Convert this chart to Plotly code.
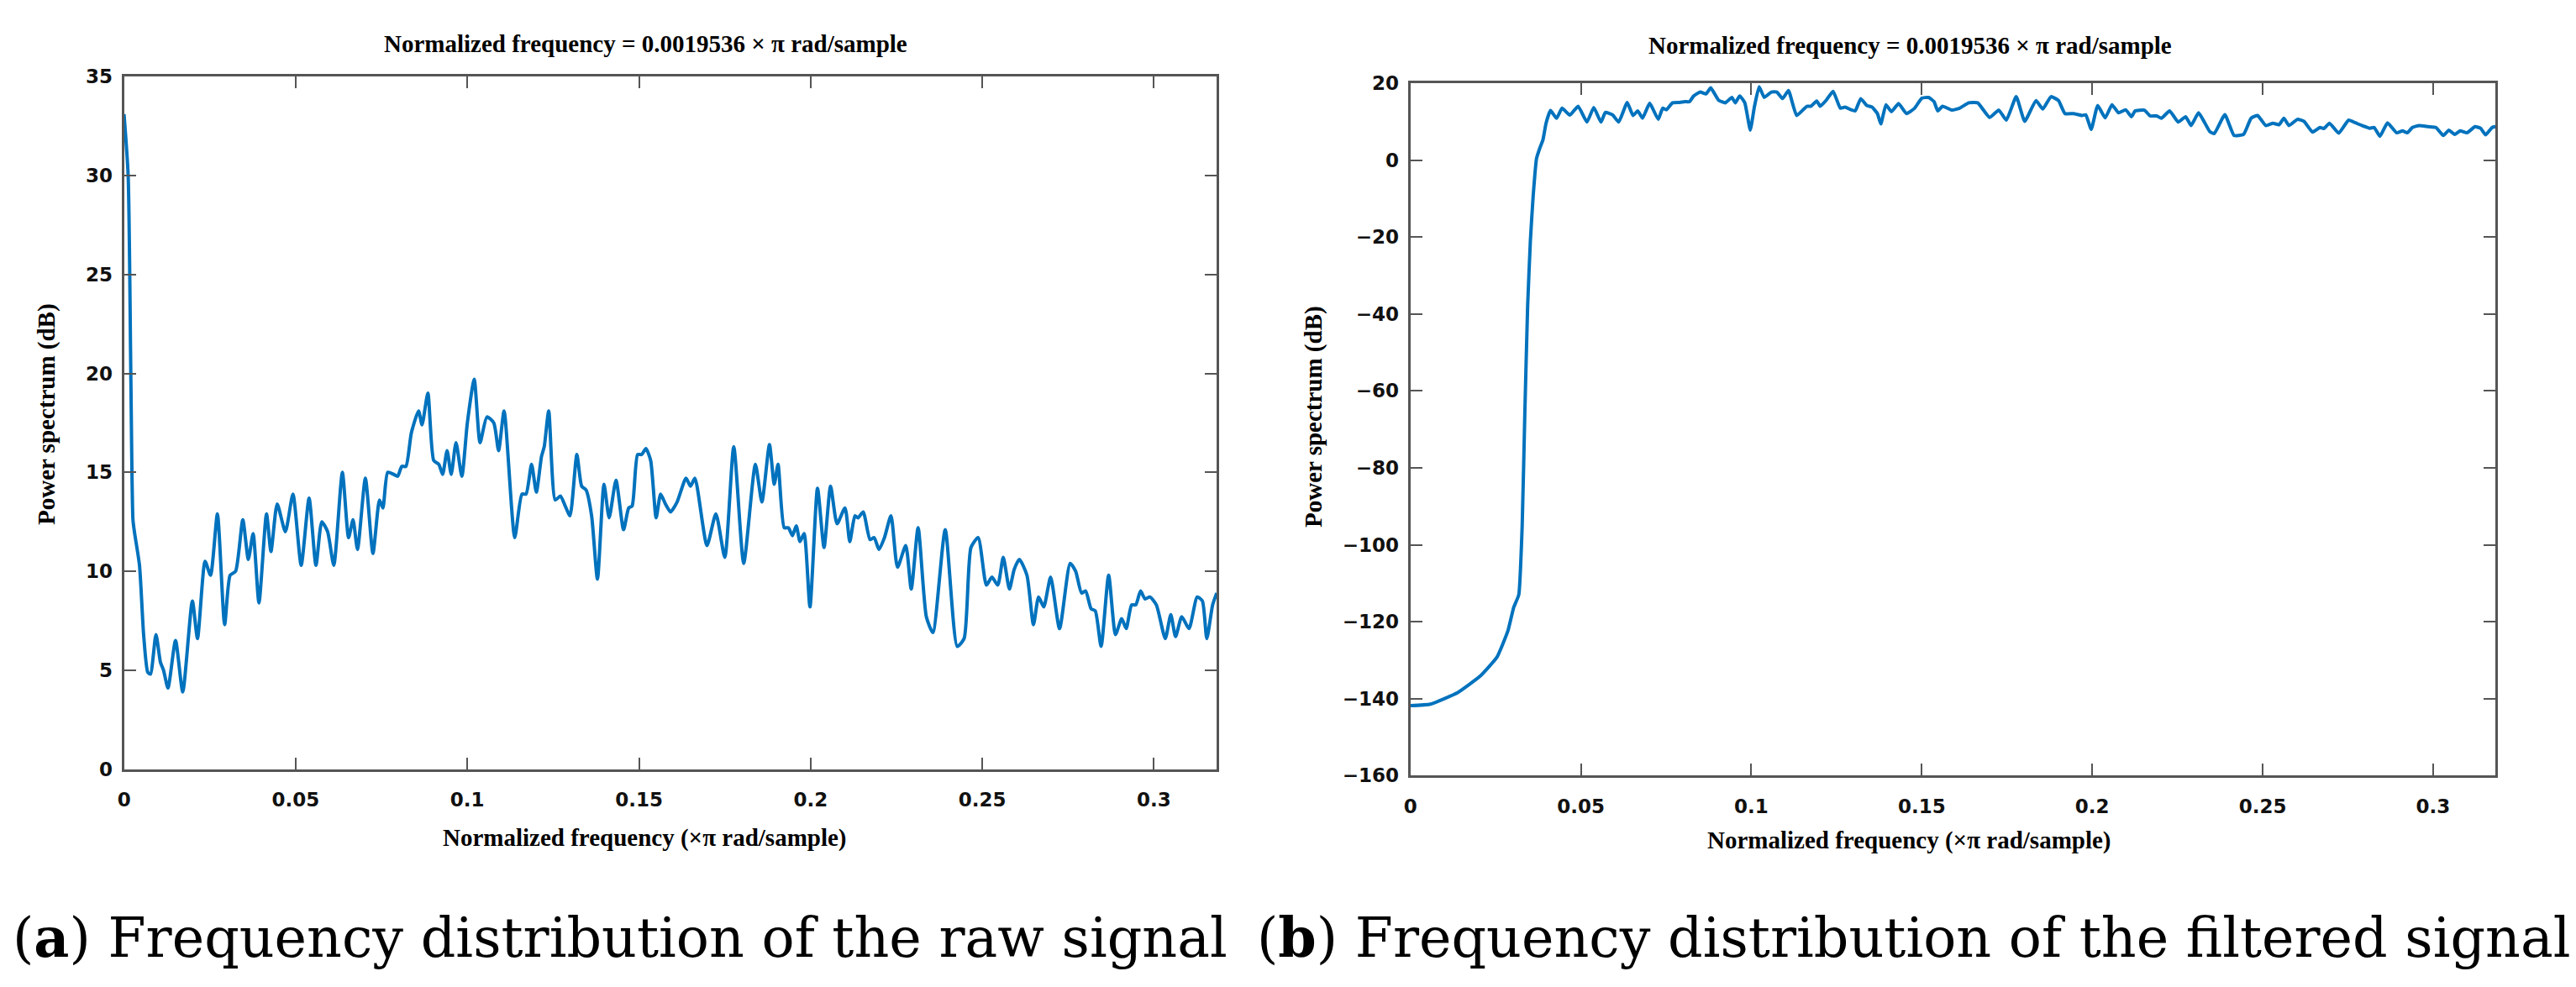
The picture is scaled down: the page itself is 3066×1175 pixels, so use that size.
import plotly.graph_objects as go

W, H = 3066, 1175

# ---------------- data ----------------
raw_freq = [0.0, 0.0012, 0.002, 0.0026, 0.0031, 0.0045, 0.0057, 0.0069, 0.0077, 0.0093,
            0.0106, 0.0115, 0.0128, 0.015, 0.0171, 0.0199, 0.0214, 0.0236, 0.0252, 0.0272,
            0.0293, 0.0309, 0.0325, 0.0346, 0.0362, 0.0376, 0.0393, 0.0415, 0.0428, 0.0446,
            0.047, 0.0492, 0.0516, 0.0539, 0.0559, 0.0576, 0.0593, 0.0611, 0.0636, 0.0654,
            0.0667, 0.068, 0.0703, 0.0725, 0.0744, 0.0754, 0.0768, 0.0785, 0.0797, 0.0809,
            0.0821, 0.0837, 0.0858, 0.0868, 0.0885, 0.0902, 0.0917, 0.0928, 0.0941, 0.0953,
            0.0967, 0.0984, 0.1000, 0.102, 0.1037, 0.1057, 0.1077, 0.1091, 0.1107, 0.1138,
            0.1159, 0.1171, 0.1187, 0.1201, 0.1216, 0.1224, 0.1237, 0.1256, 0.1271, 0.1285,
            0.1299, 0.1319, 0.1333, 0.1346, 0.1362, 0.1379, 0.1398, 0.1413, 0.1433, 0.1455,
            0.147, 0.148, 0.1496, 0.1508, 0.152, 0.1534, 0.155, 0.1563, 0.1577, 0.1592,
            0.1611, 0.1637, 0.165, 0.1663, 0.1698, 0.1724, 0.175, 0.1776, 0.1805, 0.1839,
            0.1858, 0.188, 0.1894, 0.1905, 0.1923, 0.1935, 0.1947, 0.1958, 0.1969, 0.1981,
            0.1998, 0.2020, 0.2039, 0.2058, 0.2077, 0.21, 0.2114, 0.2129, 0.2138, 0.2153,
            0.2173, 0.2185, 0.2199, 0.2215, 0.2234, 0.2253, 0.2277, 0.2293, 0.2313, 0.2337,
            0.2356, 0.2392, 0.2427, 0.2447, 0.2467, 0.2488, 0.2512, 0.2528, 0.2545, 0.2561,
            0.2579, 0.2593, 0.2608, 0.263, 0.2649, 0.2664, 0.2679, 0.2699, 0.2725, 0.2756,
            0.2772, 0.2789, 0.2801, 0.2817, 0.2829, 0.2846, 0.2868, 0.2888, 0.2906, 0.2919,
            0.2935, 0.2947, 0.2961, 0.2974, 0.2988, 0.3007, 0.3033, 0.3049, 0.3063, 0.3081,
            0.3102, 0.3126, 0.3141, 0.3154, 0.3171, 0.3183]
raw_db = [33.1, 30.0, 19.6, 12.6, 11.9, 10.3, 6.8, 4.9, 4.8, 6.8,
          5.4, 5.0, 4.1, 6.5, 3.9, 8.5, 6.6, 10.5, 9.8, 12.9,
          7.3, 9.8, 10.0, 12.6, 10.6, 11.9, 8.4, 12.9, 11.0, 13.4,
          12.0, 13.9, 10.3, 13.7, 10.3, 12.5, 12.0, 10.3, 15.0, 11.7,
          12.6, 11.1, 14.7, 10.9, 13.6, 13.2, 15.0, 14.9, 14.8, 15.3,
          15.3, 17.0, 18.1, 17.4, 19.0, 15.6, 15.4, 14.9, 16.1, 14.9,
          16.5, 14.8, 17.5, 19.7, 16.5, 17.8, 17.5, 16.1, 18.1, 11.7,
          13.9, 13.9, 15.4, 14.0, 15.8, 16.3, 18.1, 13.6, 13.8, 13.3,
          12.8, 15.9, 14.3, 14.1, 12.8, 9.6, 14.4, 12.7, 14.6, 12.1,
          13.2, 13.3, 15.9, 15.9, 16.2, 15.6, 12.7, 13.9, 13.4, 13.0,
          13.5, 14.7, 14.3, 14.7, 11.3, 12.9, 10.7, 16.3, 10.4, 15.4,
          13.5, 16.4, 14.4, 15.4, 12.2, 12.2, 11.8, 12.3, 11.5, 11.9,
          8.2, 14.2, 11.2, 14.3, 12.4, 13.2, 11.5, 12.8, 12.7, 13.0,
          11.6, 11.7, 11.1, 11.7, 12.8, 10.2, 11.3, 9.1, 12.2, 7.7,
          6.9, 12.1, 6.2, 6.6, 11.2, 11.7, 9.3, 9.7, 9.3, 10.7,
          9.1, 10.1, 10.6, 9.8, 7.3, 8.7, 8.2, 9.7, 7.1, 10.4,
          10.0, 8.9, 9.0, 8.1, 8.0, 6.2, 9.8, 6.8, 7.6, 7.1,
          8.3, 8.3, 9.0, 8.6, 8.7, 8.3, 6.6, 7.8, 6.7, 7.7,
          7.1, 8.7, 8.5, 6.6, 8.3, 8.9]

filt_freq = [0.0, 0.0059, 0.0139, 0.0205, 0.0254, 0.0286, 0.0303, 0.0318, 0.0328, 0.0336,
             0.0344, 0.0352, 0.036, 0.037, 0.038, 0.0389, 0.0398, 0.0411, 0.0429, 0.0445,
             0.0468, 0.0492, 0.0518, 0.0538, 0.0559, 0.0572, 0.0593, 0.0611, 0.0636, 0.0653,
             0.0667, 0.0681, 0.0702, 0.0727, 0.074, 0.0751, 0.0769, 0.079, 0.0805, 0.0819,
             0.0831, 0.085, 0.0867, 0.0881, 0.0904, 0.0924, 0.0943, 0.0953, 0.0966, 0.0981,
             0.0997, 0.1009, 0.1023, 0.1038, 0.1059, 0.1075, 0.1092, 0.1109, 0.1133, 0.1163,
             0.1175, 0.1192, 0.1202, 0.122, 0.1240, 0.1261, 0.1275, 0.1292, 0.1305, 0.1321,
             0.1339, 0.1354, 0.137, 0.138, 0.1395, 0.1411, 0.1432, 0.1455, 0.1479, 0.15,
             0.152, 0.1536, 0.1547, 0.1561, 0.1589, 0.1611, 0.1638, 0.1664, 0.1699, 0.1726,
             0.1748, 0.1777, 0.1802, 0.1835, 0.1855, 0.1879, 0.1901, 0.1920, 0.1945, 0.197,
             0.1981, 0.1997, 0.2016, 0.2038, 0.2058, 0.2077, 0.2098, 0.2115, 0.2126, 0.2153,
             0.2170, 0.2189, 0.2203, 0.2227, 0.2252, 0.2274, 0.229, 0.2312, 0.2345, 0.2358,
             0.2389, 0.2416, 0.2444, 0.2466, 0.2485, 0.2509, 0.253, 0.2548, 0.2562, 0.2577,
             0.2602, 0.2621, 0.2646, 0.2668, 0.2679, 0.2696, 0.2723, 0.2752, 0.2772, 0.2794,
             0.2814, 0.2827, 0.2844, 0.2866, 0.2893, 0.291, 0.2924, 0.2939, 0.2959, 0.2986,
             0.3008, 0.303, 0.3046, 0.3063, 0.3079, 0.3099, 0.3123, 0.3139, 0.3154, 0.3173,
             0.3183]
filt_db = [-141.8, -141.4, -138.4, -134.1, -129.2, -122.4, -116.3, -113.0, -95.0, -65.0,
           -38.0, -21.0, -9.6, 0.4, 3.2, 5.3, 9.6, 12.9, 10.9, 13.5,
           11.7, 14.0, 9.9, 13.7, 9.9, 12.4, 11.8, 9.9, 15.0, 11.6,
           12.8, 10.9, 14.8, 10.6, 13.5, 13.1, 14.9, 15.0, 15.2, 15.2,
           16.7, 17.7, 17.2, 18.8, 15.6, 14.9, 16.3, 14.9, 16.7, 14.9,
           7.8, 13.8, 19.1, 16.3, 17.7, 17.7, 16.0, 18.1, 11.6, 14.0,
           14.0, 15.4, 14.0, 15.6, 17.9, 13.5, 13.8, 13.1, 12.8, 16.0,
           14.2, 13.8, 12.1, 9.4, 14.4, 12.6, 14.7, 12.1, 13.5, 16.1,
           16.3, 15.2, 12.8, 14.0, 13.0, 13.5, 14.9, 14.9, 11.1, 13.0,
           10.4, 16.5, 10.1, 15.5, 13.3, 16.5, 15.5, 12.1, 12.1, 11.6,
           11.8, 8.0, 14.2, 11.0, 14.4, 12.3, 13.1, 11.3, 12.8, 13.0,
           11.5, 11.5, 10.9, 12.8, 9.9, 11.3, 9.0, 12.3, 7.4, 6.9,
           11.8, 6.4, 6.7, 10.9, 11.6, 9.0, 9.6, 9.2, 10.9, 9.0,
           10.6, 10.1, 7.3, 8.5, 8.2, 9.6, 7.0, 10.4, 9.7, 8.9,
           8.3, 8.5, 6.2, 9.7, 7.1, 7.6, 7.1, 8.5, 9.0, 8.7,
           8.5, 6.4, 7.8, 6.7, 7.6, 7.1, 8.7, 8.3, 6.6, 8.5,
           8.7]

x_ticks = [0, 0.05, 0.1, 0.15, 0.2, 0.25, 0.3]
x_tick_labels = ["0", "0.05", "0.1", "0.15", "0.2", "0.25", "0.3"]
y1_ticks = [0, 5, 10, 15, 20, 25, 30, 35]
y2_ticks = [-160, -140, -120, -100, -80, -60, -40, -20, 0, 20]
x_max = 0.3183

title_text = "Normalized frequency = 0.0019536 × π rad/sample"
xlabel_text = "Normalized frequency (×π rad/sample)"
ylabel_text = "Power spectrum (dB)"
caption_a = "(<b>a</b>) Frequency distribution of the raw signal"
caption_b = "(<b>b</b>) Frequency distribution of the filtered signal"

LINE_COLOR = "#0072BD"
AX_COLOR = "#555555"

fig = go.Figure()
fig.add_trace(go.Scatter(x=raw_freq, y=raw_db, mode="lines",
                         line=dict(color=LINE_COLOR, width=4, shape="spline", smoothing=0.6),
                         xaxis="x", yaxis="y", showlegend=False, hoverinfo="skip"))
fig.add_trace(go.Scatter(x=filt_freq, y=filt_db, mode="lines",
                         line=dict(color=LINE_COLOR, width=4, shape="spline", smoothing=0.4),
                         xaxis="x2", yaxis="y2", showlegend=False, hoverinfo="skip"))


def px(x):
    return x / W


def py(y):
    return 1 - y / H


tick_font = dict(family="DejaVu Sans", size=23, color="#111111", weight="bold")
common_x = dict(range=[0, x_max], tickmode="array", tickvals=x_ticks, ticktext=x_tick_labels,
                ticks="inside", ticklen=14, tickwidth=2, tickcolor=AX_COLOR,
                showline=True, linecolor=AX_COLOR, linewidth=3, mirror="ticks",
                showgrid=False, zeroline=False, tickfont=tick_font, ticklabelstandoff=14)
common_y = dict(ticks="inside", ticklen=14, tickwidth=2, tickcolor=AX_COLOR,
                showline=True, linecolor=AX_COLOR, linewidth=3, mirror="ticks",
                showgrid=False, zeroline=False, tickfont=tick_font, ticklabelstandoff=6)

fig.update_layout(
    width=W, height=H,
    margin=dict(l=0, r=0, t=0, b=0),
    paper_bgcolor="white", plot_bgcolor="white",
    xaxis=dict(domain=[px(140), px(1444)], anchor="y", **common_x),
    yaxis=dict(domain=[py(923), py(80)], anchor="x", range=[0, 35],
               tickmode="array", tickvals=y1_ticks, **common_y),
    xaxis2=dict(domain=[px(1675), px(2970)], anchor="y2", **common_x),
    yaxis2=dict(domain=[py(931), py(88)], anchor="x2", range=[-160, 20],
                tickmode="array", tickvals=y2_ticks, **common_y),
)

serif_bold = dict(family="Liberation Serif", size=29, color="#000000", weight="bold")
ann = []
ann.append(dict(text=title_text, x=px(762), y=py(40), font=serif_bold))
ann.append(dict(text=title_text, x=px(2271), y=py(42), font=serif_bold))
ann.append(dict(text=xlabel_text, x=px(761), y=py(1007), font=serif_bold))
ann.append(dict(text=xlabel_text, x=px(2270), y=py(1010), font=serif_bold))
ann.append(dict(text=ylabel_text, x=px(47), y=py(491), font=serif_bold, textangle=-90))
ann.append(dict(text=ylabel_text, x=px(1559), y=py(494), font=serif_bold, textangle=-90))
cap_font = dict(family="DejaVu Serif", size=65, color="#000000")
ann.append(dict(text=caption_a, x=px(5), y=py(1128), xanchor="left", font=cap_font))
ann.append(dict(text=caption_b, x=px(3062), y=py(1128), xanchor="right", font=cap_font))

for a in ann:
    a.setdefault("xanchor", "center")
    a.update(xref="paper", yref="paper", yanchor="middle", showarrow=False)
fig.update_layout(annotations=ann)

fig.write_html("out.html")
